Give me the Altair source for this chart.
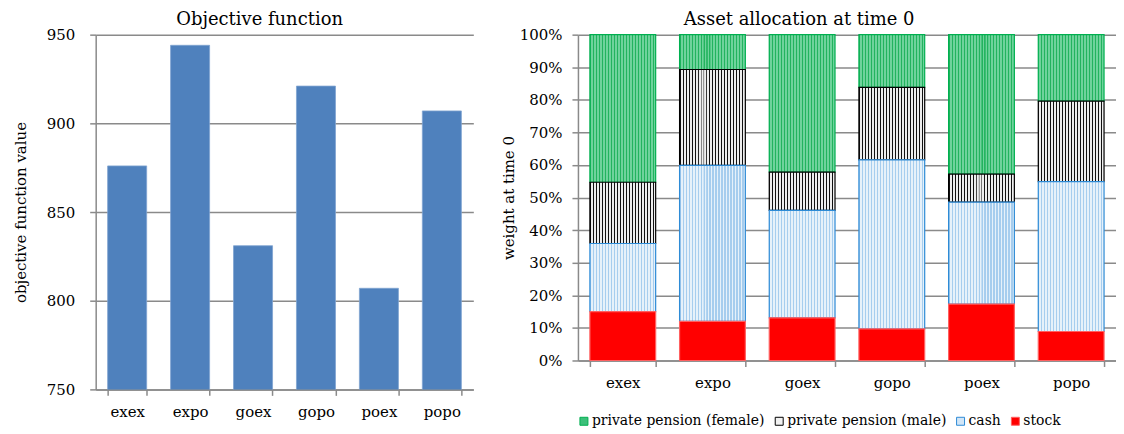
import altair as alt
import pandas as pd

cats = ["exex", "expo", "goex", "gopo", "poex", "popo"]
obj_values = [876, 944, 831, 921, 807, 907]

assets = ["private pension (female)", "private pension (male)", "cash", "stock"]
stock = [0.150, 0.120, 0.131, 0.097, 0.173, 0.089]
cash = [0.209, 0.479, 0.330, 0.519, 0.313, 0.460]
male = [0.188, 0.294, 0.117, 0.222, 0.086, 0.247]
female = [0.453, 0.107, 0.422, 0.162, 0.428, 0.204]
stack_rank = {"stock": 0, "cash": 1, "private pension (male)": 2, "private pension (female)": 3}

FONT = "DejaVu Serif"
GRAY = "#8a8a8a"

df_obj = pd.DataFrame({"case": cats, "value": obj_values})

rows = []
for name, vals in zip(assets, [female, male, cash, stock]):
    for c, v in zip(cats, vals):
        rows.append({"case": c, "asset": name, "weight": v, "rank": stack_rank[name]})
df_alloc = pd.DataFrame(rows)


def stripes(line, bg, n=22, frac=0.34):
    stops = []
    p = 1.0 / n
    eps = 0.0004
    for i in range(n):
        a = i * p
        b = a + frac * p
        stops += [
            {"offset": round(a + eps, 5), "color": line},
            {"offset": round(b, 5), "color": line},
            {"offset": round(b + eps, 5), "color": bg},
            {"offset": round(a + p, 5), "color": bg},
        ]
    return {"gradient": "linear", "x1": 0, "x2": 1, "y1": 0, "y2": 0, "stops": stops}


grad_female = stripes("#22b35e", "#6fd39c")
grad_male = stripes("#111111", "#eeeeee", frac=0.33)
grad_cash = stripes("#a6cdee", "#e6f1fa", frac=0.4)

axis_common = dict(
    labelFont=FONT, titleFont=FONT, labelColor="black", titleColor="black",
    domainColor=GRAY, tickColor=GRAY, gridColor=GRAY, domainWidth=1.5,
    tickWidth=1.5, gridWidth=1.5, tickSize=6, titleFontWeight="normal",
)

legend_common = dict(
    title=None, orient="none", legendX=483, legendY=381, direction="horizontal",
    symbolType="square", symbolSize=64, symbolStrokeWidth=1, labelLimit=0,
    labelFont=FONT, labelFontSize=14, labelColor="black", columnPadding=7, labelOffset=1,
)

left = alt.Chart(df_obj).mark_bar(color="#4f81bd", stroke="#7fa3d0", strokeWidth=0.8, clip=True).encode(
    x=alt.X("case:N", sort=cats, title=None,
            scale=alt.Scale(paddingInner=0.38, paddingOuter=0.19),
            axis=alt.Axis(labelAngle=0, labelFontSize=15, tickBand="extent", grid=False,
                          labelPadding=9, **axis_common)),
    y=alt.Y("value:Q", title="objective function value",
            scale=alt.Scale(domain=[750, 950], zero=False, nice=False),
            axis=alt.Axis(values=[750, 800, 850, 900, 950], labelFontSize=15, titleFontSize=15,
                          labelPadding=15, titlePadding=18, **axis_common)),
).properties(
    width=379, height=356,
    title=alt.TitleParams("Objective function", font=FONT, fontSize=18, fontWeight="normal",
                          color="black", dx=-25, offset=-1),
)

right = alt.Chart(df_alloc).mark_bar().encode(
    x=alt.X("case:N", sort=cats, title=None,
            scale=alt.Scale(paddingInner=24 / 90, paddingOuter=12 / 90),
            axis=alt.Axis(labelAngle=0, labelFontSize=15, tickBand="extent", grid=False,
                          labelPadding=9, **axis_common)),
    y=alt.Y("weight:Q", stack="zero", title="weight at time 0",
            scale=alt.Scale(domain=[0, 1], nice=False),
            axis=alt.Axis(values=[i / 10 for i in range(11)], format=".0%", labelFontSize=15,
                          titleFontSize=15, labelPadding=10, titlePadding=3, **axis_common)),
    order=alt.Order("rank:Q", sort="ascending"),
    fill=alt.Fill(
        field="asset", type="nominal",
        scale=alt.Scale(domain=assets, range=["#3cc07a", "#f2f2f2", "#d2e6f7", "#ff0000"]),
        legend=alt.Legend(**legend_common),
        condition=[
            {"test": "datum.asset === 'private pension (female)'", "value": grad_female},
            {"test": "datum.asset === 'private pension (male)'", "value": grad_male},
            {"test": "datum.asset === 'cash'", "value": grad_cash},
        ],
    ),
    stroke=alt.Stroke("asset:N",
                      scale=alt.Scale(domain=assets, range=["#00b050", "#000000", "#2e8bd6", "#ff6060"]),
                      legend=alt.Legend(**legend_common)),
    strokeWidth=alt.value(1.2),
).properties(
    width=540, height=327,
    title=alt.TitleParams("Asset allocation at time 0", font=FONT, fontSize=18, fontWeight="normal",
                          color="black", dx=-48, offset=-1),
)

chart = alt.hconcat(left, right, spacing=28).properties(
    padding={"left": 5, "top": 2, "right": 0, "bottom": 0}
).configure_view(stroke=None)

chart.save("out.html", embed_options={"renderer": "svg", "actions": False})
